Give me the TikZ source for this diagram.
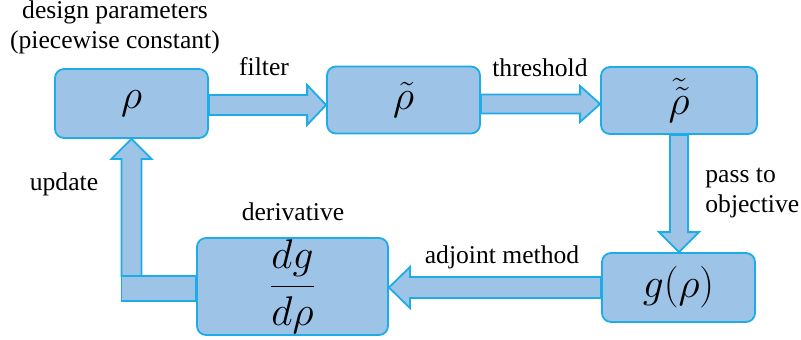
\documentclass[tikz,border=0pt]{standalone}
\usepackage{fontspec}
\setmainfont{Liberation Serif}
\usetikzlibrary{calc}

\definecolor{boxfill}{RGB}{157,195,230}
\definecolor{boxline}{RGB}{30,172,230}

\tikzset{
  block/.style={draw=boxline, fill=boxfill, line width=0.9pt, rounded corners=4.5pt,
    minimum width=76.5pt, minimum height=33.5pt, inner sep=0pt,
    font=\fontsize{20}{22}\selectfont},
  blockarrow/.style={draw=boxline, fill=boxfill, line width=0.9pt, line join=miter},
  lbl/.style={font=\fontsize{12.8}{15}\selectfont, inner sep=0pt}
}

\begin{document}
\begin{tikzpicture}[x=0.5pt, y=-0.5pt]
    \useasboundingbox (0,0) rectangle (801,339);

    % Blocks of the optimisation loop
    \node[block, minimum height=34.5pt] (rho) at (131.5,103.5) {$\rho$};
    \node[block] (rhot) at (403.5,100) {$\tilde{\rho}$};
    \node[block, minimum width=78pt] (rhott) at (679,100.5) {$\tilde{\tilde{\rho}}$};
    \node[block, minimum height=34.5pt] (obj) at (678.5,287.5) {$g(\rho)$};
    \node[block, minimum width=95.5pt, minimum height=48.5pt, font=\fontsize{21.5}{23}\selectfont]
        (deriv) at (292.5,286.5) {$\displaystyle\frac{dg}{d\rho}$};

    % Filter arrow
    \coordinate (fs) at (rho.east |- 0,105);
    \coordinate (ft) at (rhot.west |- 0,105);
    \draw[blockarrow] ($(fs)+(0,-10)$) -- ($(ft)+(-19,-10)$) -- ($(ft)+(-19,-20)$) -- (ft)
        -- ($(ft)+(-19,20)$) -- ($(ft)+(-19,10)$) -- ($(fs)+(0,10)$) -- cycle;

    % Threshold arrow
    \coordinate (ts) at (rhot.east |- 0,104);
    \coordinate (tt) at (rhott.west |- 0,104);
    \draw[blockarrow] ($(ts)+(0,-9.5)$) -- ($(tt)+(-20,-9.5)$) -- ($(tt)+(-20,-18)$) -- (tt)
        -- ($(tt)+(-20,18)$) -- ($(tt)+(-20,9.5)$) -- ($(ts)+(0,9.5)$) -- cycle;

    % Pass to objective
    \coordinate (ps) at (rhott.south);
    \coordinate (pt) at (rhott.south |- obj.north);
    \draw[blockarrow] ($(ps)+(-9,0)$) -- ($(pt)+(-9,-20)$) -- ($(pt)+(-20,-20)$) -- (pt)
        -- ($(pt)+(20,-20)$) -- ($(pt)+(9,-20)$) -- ($(ps)+(9,0)$) -- cycle;

    % Adjoint method
    \coordinate (as) at (obj.west |- 0,287.5);
    \coordinate (ae) at (deriv.east |- 0,287.5);
    \draw[blockarrow] ($(as)+(0,-10.5)$) -- ($(ae)+(21,-10.5)$) -- ($(ae)+(21,-20.5)$) -- (ae)
        -- ($(ae)+(21,20.5)$) -- ($(ae)+(21,10.5)$) -- ($(as)+(0,10.5)$) -- cycle;

    % Update: bar out of the derivative block, then up into rho
    \coordinate (ut) at (rho.south);
    \coordinate (uc) at (rho.south |- 0,276);
    \draw[blockarrow] ($(uc)+(-10,0)$) rectangle (deriv.west |- 0,301);
    \draw[blockarrow] ($(uc)+(-10,0)$) -- ($(ut)+(-10,20)$) -- ($(ut)+(-20,20)$) -- (ut)
        -- ($(ut)+(20,20)$) -- ($(ut)+(10,20)$) -- ($(uc)+(10,0)$) -- cycle;

    % Labels
    \node[lbl, align=center] (design) at (115,27) {design parameters\\(piecewise constant)};
    \node[lbl, anchor=base] (filter) at (264,75) {filter};
    \node[lbl, anchor=base] (thresh) at (540,76) {threshold};
    \node[lbl, align=left, anchor=west] (pass) at (705,193.5) {pass to\\objective};
    \node[lbl, anchor=base] (update) at (64,190) {update};
    \node[lbl, anchor=base] (derivlbl) at (293,220) {derivative};
    \node[lbl, anchor=base] (adjoint) at (502,263) {adjoint method};
\end{tikzpicture}
\end{document}
